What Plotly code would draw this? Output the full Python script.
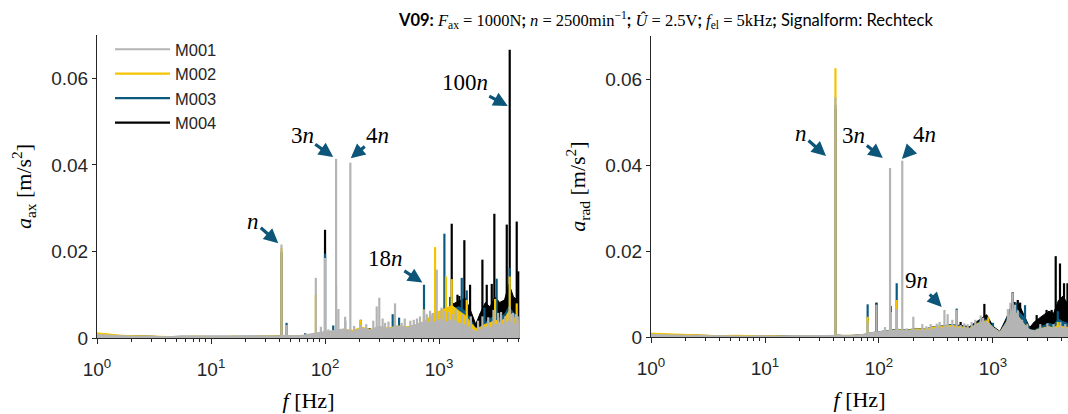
import math
import plotly.graph_objects as go

# ---------------------------------------------------------------------------
# Spectrum data (frequency in Hz, acceleration amplitude in m/s^2)
# ---------------------------------------------------------------------------
series_names = ["M001", "M002", "M003", "M004"]
series_colors = ["#b4b4b4", "#f5c400", "#0b5a80", "#000000"]

# common frequency grid of the broadband floor
floor_f = [1, 1.3, 1.7, 2.2, 3, 4, 5.5, 7, 9, 12, 16, 20, 26, 32, 38, 44, 52, 62, 72, 85,
           100, 120, 145, 175, 210, 250, 300, 360, 430, 520, 620, 740, 880, 1000, 1150,
           1300, 1500, 1700, 1900, 2100, 2300, 2550, 2800, 3100, 3400, 3750, 4100, 4500, 5000]

# axial acceleration: broadband floor per measurement
ax_floor_m001 = [0.0008, 0.0006, 0.0005, 0.0004, 0.0003, 0.0003, 0.0004, 0.0003, 0.0003, 0.0004,
                 0.0003, 0.0004, 0.0004, 0.0005, 0.0004, 0.0006, 0.0005, 0.0006, 0.0009, 0.0012,
                 0.0015, 0.0017, 0.0021, 0.0015, 0.0023, 0.0019, 0.0027, 0.0021, 0.0028, 0.0024,
                 0.0030, 0.0038, 0.0034, 0.0043, 0.0037, 0.0042, 0.0034, 0.0030, 0.0023, 0.0015,
                 0.0020, 0.0026, 0.0024, 0.0032, 0.0028, 0.0034, 0.0039, 0.0033, 0.0030]
ax_floor_m002 = [0.0012, 0.0009, 0.0006, 0.0005, 0.0004, 0.0003, 0.0003, 0.0004, 0.0003, 0.0003,
                 0.0004, 0.0003, 0.0004, 0.0004, 0.0004, 0.0005, 0.0005, 0.0005, 0.0007, 0.0010,
                 0.0013, 0.0017, 0.0020, 0.0018, 0.0025, 0.0020, 0.0026, 0.0023, 0.0028, 0.0026,
                 0.0030, 0.0038, 0.0055, 0.0062, 0.0068, 0.0075, 0.0062, 0.0052, 0.0035, 0.0022,
                 0.0025, 0.0032, 0.0035, 0.0042, 0.0036, 0.0045, 0.0062, 0.0048, 0.0040]
ax_floor_m003 = [0.0007, 0.0006, 0.0005, 0.0004, 0.0003, 0.0003, 0.0003, 0.0003, 0.0003, 0.0003,
                 0.0003, 0.0003, 0.0003, 0.0004, 0.0004, 0.0005, 0.0004, 0.0005, 0.0007, 0.0009,
                 0.0012, 0.0016, 0.0019, 0.0016, 0.0022, 0.0019, 0.0024, 0.0022, 0.0027, 0.0025,
                 0.0029, 0.0036, 0.0045, 0.0058, 0.0064, 0.0068, 0.0072, 0.0062, 0.0042, 0.0022,
                 0.0026, 0.0036, 0.0045, 0.0052, 0.0046, 0.0055, 0.0072, 0.0058, 0.0048]
ax_floor_m004 = [0.0006, 0.0005, 0.0005, 0.0004, 0.0004, 0.0003, 0.0004, 0.0004, 0.0003, 0.0003,
                 0.0004, 0.0003, 0.0004, 0.0004, 0.0004, 0.0005, 0.0004, 0.0005, 0.0006, 0.0008,
                 0.0011, 0.0014, 0.0017, 0.0015, 0.0019, 0.0018, 0.0021, 0.0020, 0.0024, 0.0023,
                 0.0027, 0.0032, 0.0038, 0.0045, 0.0065, 0.0078, 0.0085, 0.0092, 0.0062, 0.0032,
                 0.0058, 0.0082, 0.0072, 0.0095, 0.0082, 0.0088, 0.0125, 0.0095, 0.0085]

# axial acceleration: discrete spectral lines per measurement
ax_peak_f_m001 = [41.5, 46, 83, 92, 100, 107, 125, 131, 150, 166.7, 180, 206, 230, 265, 284,
                  299, 320, 336, 360, 411, 470, 500, 560, 600, 640, 680, 738, 780, 834, 880,
                  955, 1050, 1120, 1200, 1320, 1400, 1600, 1750, 1900, 2200, 2400, 2700, 3000,
                  3300, 3500, 3800, 4167, 4450, 4700, 4900]
ax_peak_a_m001 = [0.0216, 0.0030, 0.0139, 0.0026, 0.0185, 0.0020, 0.0414, 0.0067, 0.0049, 0.0405,
                  0.0028, 0.0030, 0.0032, 0.0040, 0.0073, 0.0093, 0.0045, 0.0035, 0.0038, 0.0080,
                  0.0035, 0.0045, 0.0040, 0.0042, 0.0045, 0.0050, 0.0065, 0.0055, 0.0063, 0.0058,
                  0.0158, 0.0070, 0.0062, 0.0060, 0.0055, 0.0065, 0.0055, 0.0045, 0.0050, 0.0040,
                  0.0050, 0.0048, 0.0065, 0.0058, 0.0060, 0.0050, 0.0073, 0.0058, 0.0055, 0.0050]
ax_peak_f_m002 = [41.5, 83, 125, 206, 738, 923, 1150, 1292, 1750, 3100, 4167, 4800]
ax_peak_a_m002 = [0.0208, 0.0100, 0.0120, 0.0042, 0.0066, 0.0210, 0.0142, 0.0136, 0.0088, 0.0090,
                  0.0142, 0.0080]
ax_peak_f_m003 = [41.5, 46, 67, 100, 118, 150, 392, 446, 738, 1114, 1250, 1582, 1750, 2500,
                  3200, 4167]
ax_peak_a_m003 = [0.0200, 0.0035, 0.0011, 0.0195, 0.0029, 0.0040, 0.0055, 0.0047, 0.0123, 0.0241,
                  0.0095, 0.0139, 0.0110, 0.0070, 0.0137, 0.0162]
ax_peak_f_m004 = [41.5, 100, 206, 245, 1020, 1292, 1450, 1507, 1667, 1871, 2400, 2620, 2900,
                  3055, 3550, 3925, 4167, 4800, 4950]
ax_peak_a_m004 = [0.0195, 0.0250, 0.0042, 0.0023, 0.0058, 0.0264, 0.0100, 0.0097, 0.0226, 0.0123,
                  0.0181, 0.0123, 0.0125, 0.0287, 0.0074, 0.0262, 0.0666, 0.0269, 0.0154]

# radial acceleration: broadband floor per measurement
rad_floor_m001 = [0.0006, 0.0005, 0.0004, 0.0003, 0.0003, 0.0003, 0.0002, 0.0002, 0.0003, 0.0002,
                  0.0003, 0.0003, 0.0004, 0.0003, 0.0004, 0.0004, 0.0003, 0.0004, 0.0006, 0.0010,
                  0.0012, 0.0014, 0.0016, 0.0014, 0.0017, 0.0015, 0.0019, 0.0021, 0.0023, 0.0020,
                  0.0018, 0.0030, 0.0036, 0.0022, 0.0011, 0.0032, 0.0066, 0.0044, 0.0027, 0.0017,
                  0.0014, 0.0018, 0.0021, 0.0023, 0.0020, 0.0022, 0.0021, 0.0020, 0.0018]
rad_floor_m002 = [0.0009, 0.0008, 0.0006, 0.0005, 0.0004, 0.0003, 0.0004, 0.0003, 0.0003, 0.0003,
                  0.0002, 0.0003, 0.0003, 0.0003, 0.0003, 0.0004, 0.0003, 0.0004, 0.0005, 0.0009,
                  0.0011, 0.0014, 0.0017, 0.0015, 0.0019, 0.0018, 0.0023, 0.0025, 0.0027, 0.0024,
                  0.0020, 0.0032, 0.0038, 0.0022, 0.0011, 0.0032, 0.0065, 0.0045, 0.0028, 0.0016,
                  0.0014, 0.0019, 0.0022, 0.0024, 0.0021, 0.0028, 0.0024, 0.0023, 0.0021]
rad_floor_m003 = [0.0005, 0.0005, 0.0004, 0.0004, 0.0003, 0.0003, 0.0003, 0.0003, 0.0002, 0.0003,
                  0.0003, 0.0002, 0.0003, 0.0003, 0.0003, 0.0004, 0.0003, 0.0004, 0.0005, 0.0010,
                  0.0012, 0.0015, 0.0018, 0.0016, 0.0020, 0.0018, 0.0024, 0.0026, 0.0029, 0.0025,
                  0.0021, 0.0034, 0.0041, 0.0023, 0.0012, 0.0036, 0.0078, 0.0058, 0.0045, 0.0018,
                  0.0016, 0.0022, 0.0027, 0.0032, 0.0028, 0.0042, 0.0036, 0.0032, 0.0030]
rad_floor_m004 = [0.0007, 0.0006, 0.0005, 0.0004, 0.0003, 0.0003, 0.0003, 0.0003, 0.0003, 0.0002,
                  0.0003, 0.0003, 0.0003, 0.0003, 0.0003, 0.0004, 0.0003, 0.0004, 0.0005, 0.0009,
                  0.0011, 0.0014, 0.0017, 0.0015, 0.0019, 0.0018, 0.0023, 0.0025, 0.0028, 0.0027,
                  0.0024, 0.0038, 0.0052, 0.0025, 0.0013, 0.0042, 0.0082, 0.0075, 0.0048, 0.0022,
                  0.0035, 0.0045, 0.0052, 0.0060, 0.0055, 0.0085, 0.0095, 0.0078, 0.0070]

# radial acceleration: discrete spectral lines per measurement
rad_peak_f_m001 = [41.5, 79.5, 95, 113, 125, 143, 160, 175, 200, 240, 260, 284, 321, 340, 375,
                   400, 440, 480, 520, 560, 600, 650, 700, 780, 820, 1350, 1420, 1488, 1560,
                   1650, 1800, 2000, 2600, 3000, 3400, 3900, 4300]
rad_peak_a_m001 = [0.0557, 0.0033, 0.0075, 0.0023, 0.0393, 0.0065, 0.0410, 0.0020, 0.0047, 0.0030,
                   0.0025, 0.0030, 0.0031, 0.0035, 0.0063, 0.0053, 0.0040, 0.0063, 0.0028, 0.0032,
                   0.0030, 0.0035, 0.0040, 0.0050, 0.0045, 0.0065, 0.0080, 0.0103, 0.0075, 0.0062,
                   0.0040, 0.0030, 0.0030, 0.0032, 0.0030, 0.0035, 0.0030]
rad_peak_f_m002 = [41.5, 79.5, 127, 143, 910, 1550, 3700]
rad_peak_a_m002 = [0.0625, 0.0047, 0.0058, 0.0086, 0.0046, 0.0060, 0.0035]
rad_peak_f_m003 = [41.5, 79.5, 95, 127, 143, 480, 1000, 1600, 1910, 3700]
rad_peak_a_m003 = [0.0540, 0.0076, 0.0078, 0.0072, 0.0125, 0.0066, 0.0033, 0.0080, 0.0074, 0.0060]
rad_peak_f_m004 = [41.5, 95, 520, 672, 840, 1488, 1650, 1730, 2416, 2950, 3270, 3550, 3870,
                   4200, 4500]
rad_peak_a_m004 = [0.0530, 0.0080, 0.0035, 0.0026, 0.0077, 0.0104, 0.0086, 0.0080, 0.0051, 0.0063,
                   0.0063, 0.0188, 0.0171, 0.0125, 0.0125]

# harmonic labels: (text, frequency of arrow tip, amplitude of arrow tip, text offset px)
ax_labels = [("<i>n</i>", 38.9, 0.0219, -25, -22),
             ("3<i>n</i>", 118, 0.0418, -31, -22),
             ("4<i>n</i>", 168, 0.0415, 27, -23),
             ("18<i>n</i>", 714, 0.0128, -37, -24),
             ("100<i>n</i>", 4006, 0.0536, -43, -23)]
rad_labels = [("<i>n</i>", 34.3, 0.0421, -25, -22),
              ("3<i>n</i>", 108, 0.0416, -29, -23),
              ("4<i>n</i>", 159, 0.0414, 23, -24),
              ("9<i>n</i>", 355, 0.0070, -25, -26)]

x_tick_vals = [1, 10, 100, 1000]
x_tick_text = ["10<sup>0</sup>", "10<sup>1</sup>", "10<sup>2</sup>", "10<sup>3</sup>"]
y_tick_vals = [0, 0.02, 0.04, 0.06]
y_tick_text = ["0", "0.02", "0.04", "0.06"]

# ---------------------------------------------------------------------------
AXIS_COLOR = "#262626"
ARROW_COLOR = "#0d5679"
SANS = "Liberation Sans, Arial, sans-serif"
SERIF = "Liberation Serif, Times New Roman, serif"


def stems(freqs, amps):
    xs, ys = [], []
    for f, a in zip(freqs, amps):
        xs += [f, f, None]
        ys += [0, a, None]
    return xs, ys


panels = [
    ("x", "y",
     [ax_floor_m001, ax_floor_m002, ax_floor_m003, ax_floor_m004],
     [(ax_peak_f_m001, ax_peak_a_m001), (ax_peak_f_m002, ax_peak_a_m002),
      (ax_peak_f_m003, ax_peak_a_m003), (ax_peak_f_m004, ax_peak_a_m004)], True),
    ("x2", "y2",
     [rad_floor_m001, rad_floor_m002, rad_floor_m003, rad_floor_m004],
     [(rad_peak_f_m001, rad_peak_a_m001), (rad_peak_f_m002, rad_peak_a_m002),
      (rad_peak_f_m003, rad_peak_a_m003), (rad_peak_f_m004, rad_peak_a_m004)], False),
]

fig = go.Figure()

for xa, ya, floors, peaks, show_legend in panels:
    # draw M004 first so that M001 ends up on top
    for i in reversed(range(4)):
        color = series_colors[i]
        fig.add_trace(go.Scatter(
            x=floor_f, y=floors[i], xaxis=xa, yaxis=ya, mode="lines",
            line=dict(color=color, width=1), fill="tozeroy", fillcolor=color,
            showlegend=False, hoverinfo="skip"))
        sx, sy = stems(*peaks[i])
        fig.add_trace(go.Scatter(
            x=sx, y=sy, xaxis=xa, yaxis=ya, mode="lines",
            line=dict(color=color, width=2.2), name=series_names[i],
            legendrank=i + 1, showlegend=show_legend, hoverinfo="skip"))

W, H = 1068, 414

x_common = dict(
    type="log", showline=True, linecolor=AXIS_COLOR, linewidth=1, mirror=False,
    automargin=False,
    ticks="outside", ticklen=5, tickcolor=AXIS_COLOR, tickwidth=1,
    tickvals=x_tick_vals, ticktext=x_tick_text, ticklabelstandoff=9,
    tickfont=dict(family=SANS, size=19, color=AXIS_COLOR),
    showgrid=False, zeroline=False,
    minor=dict(tickvals=[m * d for d in (1, 10, 100, 1000) for m in range(2, 10)],
               ticks="outside", ticklen=3, tickcolor=AXIS_COLOR, showgrid=False),
    title=dict(text="<i>f</i> [Hz]", font=dict(family=SERIF, size=22, color="#000000"),
               standoff=13),
)
y_common = dict(
    range=[0, 0.07], showline=True, linecolor=AXIS_COLOR, linewidth=1, mirror=False,
    automargin=False,
    ticks="outside", ticklen=4, tickcolor=AXIS_COLOR, tickwidth=1,
    tickvals=y_tick_vals, ticktext=y_tick_text,
    tickfont=dict(family=SANS, size=19, color=AXIS_COLOR),
    showgrid=False, zeroline=False,
)

fig.update_layout(
    width=W, height=H, margin=dict(l=0, r=0, t=0, b=0),
    paper_bgcolor="white", plot_bgcolor="white",
    xaxis=dict(x_common, domain=[97 / W, 520 / W], range=[0, 3.71]),
    xaxis2=dict(x_common, domain=[651 / W, 1.0], range=[0, 3.658], anchor="y2"),
    yaxis=dict(y_common, domain=[(H - 338) / H, (H - 35) / H], anchor="x",
               title=dict(text="<i>a</i><sub>ax</sub> [m/s<sup>2</sup>]",
                          font=dict(family=SERIF, size=22, color="#000000"), standoff=13)),
    yaxis2=dict(y_common, domain=[(H - 337) / H, (H - 36) / H], anchor="x2",
                title=dict(text="<i>a</i><sub>rad</sub> [m/s<sup>2</sup>]",
                           font=dict(family=SERIF, size=22, color="#000000"), standoff=13)),
    legend=dict(x=110 / W, y=(H - 32) / H, xanchor="left", yanchor="top",
                bgcolor="rgba(0,0,0,0)", font=dict(family=SANS, size=16.5, color=AXIS_COLOR),
                itemwidth=55, tracegroupgap=0),
    showlegend=True,
)

annotations = [dict(
    xref="paper", yref="paper", x=665 / W, y=1 - 20 / H, xanchor="center", yanchor="middle",
    showarrow=False, font=dict(family=SERIF, size=16.5, color="#000000"),
    text=('<span style="font-family:Lato"><b>V09:</b></span> <i>F</i><sub>ax</sub> = 1000N'
          '<span style="font-family:Lato"><b>;</b></span> <i>n</i> = 2500min<sup>−1</sup>'
          '<span style="font-family:Lato"><b>;</b></span> <i>Û</i> = 2.5V'
          '<span style="font-family:Lato"><b>;</b></span> <i>f</i><sub>el</sub> = 5kHz'
          '<span style="font-family:Lato"><b>;</b> Signalform: Rechteck</span>'),
)]

for xr, yr, labels in (("x", "y", ax_labels), ("x2", "y2", rad_labels)):
    for text, f, a, dx, dy in labels:
        annotations.append(dict(
            xref=xr, yref=yr, x=math.log10(f), y=a, text=text, showarrow=True,
            ax=dx, ay=dy, arrowhead=2, arrowsize=0.9, arrowwidth=3.2,
            arrowcolor=ARROW_COLOR, standoff=0,
            font=dict(family=SERIF, size=23, color="#000000")))

fig.update_layout(annotations=annotations)

fig.write_html("out.html")
